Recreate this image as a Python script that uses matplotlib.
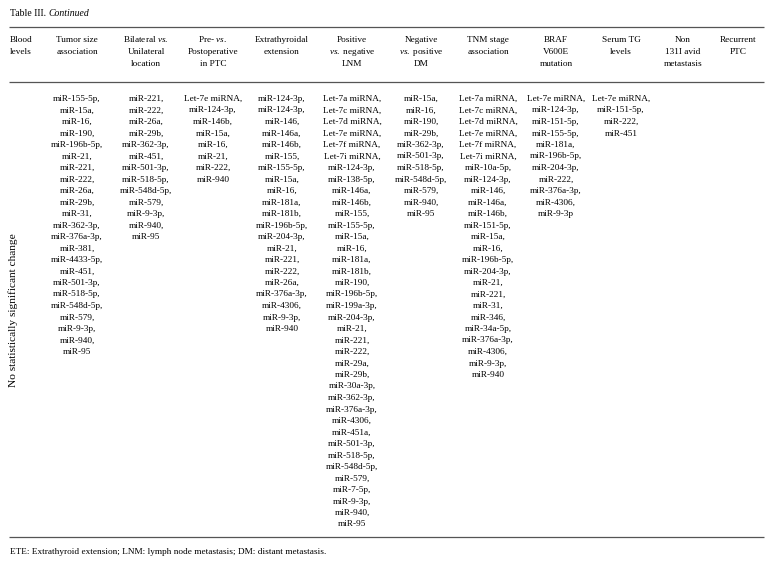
import matplotlib
matplotlib.use("Agg")
import matplotlib.pyplot as plt

plt.rcParams['font.family'] = ['Liberation Serif', 'DejaVu Serif']
plt.rcParams['mathtext.fontset'] = 'custom'
plt.rcParams['mathtext.rm'] = 'Liberation Serif'
plt.rcParams['mathtext.it'] = 'Liberation Serif:italic'

# column headers (each entry = lines of the header cell)
headers = [
    ["Tumor size", "association"],
    [r"Bilateral $\mathit{vs.}$", "Unilateral", "location"],
    [r"Pre- $\mathit{vs.}$", "Postoperative", "in PTC"],
    ["Extrathyroidal", "extension"],
    ["Positive", r"$\mathit{vs.}$ negative", "LNM"],
    ["Negative", r"$\mathit{vs.}$ positive", "DM"],
    ["TNM stage", "association"],
    ["BRAF", "V600E", "mutation"],
    ["Serum TG", "levels"],
    ["Non", "131I avid", "metastasis"],
    ["Recurrent", "PTC"],
]
row_label = "No statistically significant change"

# cell contents
tumor_size = ["miR-155-5p", "miR-15a", "miR-16", "miR-190", "miR-196b-5p", "miR-21",
              "miR-221", "miR-222", "miR-26a", "miR-29b", "miR-31", "miR-362-3p",
              "miR-376a-3p", "miR-381", "miR-4433-5p", "miR-451", "miR-501-3p",
              "miR-518-5p", "miR-548d-5p", "miR-579", "miR-9-3p", "miR-940", "miR-95"]
bilateral = ["miR-221", "miR-222", "miR-26a", "miR-29b", "miR-362-3p", "miR-451",
             "miR-501-3p", "miR-518-5p", "miR-548d-5p", "miR-579", "miR-9-3p",
             "miR-940", "miR-95"]
pre_post = ["Let-7e miRNA", "miR-124-3p", "miR-146b", "miR-15a", "miR-16", "miR-21",
            "miR-222", "miR-940"]
extrathyroidal = ["miR-124-3p", "miR-124-3p", "miR-146", "miR-146a", "miR-146b",
                  "miR-155", "miR-155-5p", "miR-15a", "miR-16", "miR-181a", "miR-181b",
                  "miR-196b-5p", "miR-204-3p", "miR-21", "miR-221", "miR-222",
                  "miR-26a", "miR-376a-3p", "miR-4306", "miR-9-3p", "miR-940"]
lnm = ["Let-7a miRNA", "Let-7c miRNA", "Let-7d miRNA", "Let-7e miRNA", "Let-7f miRNA",
       "Let-7i miRNA", "miR-124-3p", "miR-138-5p", "miR-146a", "miR-146b", "miR-155",
       "miR-155-5p", "miR-15a", "miR-16", "miR-181a", "miR-181b", "miR-190",
       "miR-196b-5p", "miR-199a-3p", "miR-204-3p", "miR-21", "miR-221", "miR-222",
       "miR-29a", "miR-29b", "miR-30a-3p", "miR-362-3p", "miR-376a-3p", "miR-4306",
       "miR-451a", "miR-501-3p", "miR-518-5p", "miR-548d-5p", "miR-579", "miR-7-5p",
       "miR-9-3p", "miR-940", "miR-95"]
dm = ["miR-15a", "miR-16", "miR-190", "miR-29b", "miR-362-3p", "miR-501-3p",
      "miR-518-5p", "miR-548d-5p", "miR-579", "miR-940", "miR-95"]
tnm = ["Let-7a miRNA", "Let-7c miRNA", "Let-7d miRNA", "Let-7e miRNA", "Let-7f miRNA",
       "Let-7i miRNA", "miR-10a-5p", "miR-124-3p", "miR-146", "miR-146a", "miR-146b",
       "miR-151-5p", "miR-15a", "miR-16", "miR-196b-5p", "miR-204-3p", "miR-21",
       "miR-221", "miR-31", "miR-346", "miR-34a-5p", "miR-376a-3p", "miR-4306",
       "miR-9-3p", "miR-940"]
braf = ["Let-7e miRNA", "miR-124-3p", "miR-151-5p", "miR-155-5p", "miR-181a",
        "miR-196b-5p", "miR-204-3p", "miR-222", "miR-376a-3p", "miR-4306", "miR-9-3p"]
serum_tg = ["Let-7e miRNA", "miR-151-5p", "miR-222", "miR-451"]
non_avid = []
recurrent = []
columns = [tumor_size, bilateral, pre_post, extrathyroidal, lnm, dm, tnm, braf,
           serum_tg, non_avid, recurrent]

# layout in pixel coordinates (y = baseline)
col_x = [77, 146, 213, 282, 352, 421, 488, 556, 621, 683, 738]
fs = 6.7
line_h = 11.5

fig = plt.figure(figsize=(7.74, 5.62), dpi=100)
ax = fig.add_axes([0, 0, 1, 1])
ax.set_xlim(0, 774)
ax.set_ylim(562, 0)
ax.axis('off')

# title: roman part + italic part placed after it
t1 = ax.text(10, 16, "Table III. ", fontsize=7.0, va='baseline', ha='left')
renderer = fig.canvas.get_renderer()
bb = t1.get_window_extent(renderer=renderer)
ax.text(10 + bb.width, 16, "Continued", fontsize=7.0, style='italic',
        va='baseline', ha='left')

for y in [27, 82, 537]:
    ax.plot([9, 764], [y, y], color='#555555', lw=0.9, solid_capstyle='butt')

# header
ax.text(10, 42, "Blood", fontsize=fs, va='baseline', ha='left')
ax.text(10, 54, "levels", fontsize=fs, va='baseline', ha='left')
for x, lines in zip(col_x, headers):
    for i, s in enumerate(lines):
        ax.text(x, 42 + i * 12, s, fontsize=fs, va='baseline', ha='center')

# body
ax.text(13, 310, row_label, fontsize=8.2, rotation=90, va='center', ha='center')
for x, items in zip(col_x, columns):
    for i, s in enumerate(items):
        label = s + ("," if i < len(items) - 1 else "")
        ax.text(x, 101 + i * line_h, label, fontsize=fs, va='baseline', ha='center')

ax.text(10, 554, "ETE: Extrathyroid extension; LNM: lymph node metastasis; DM: distant metastasis.",
        fontsize=fs, va='baseline', ha='left')

fig.savefig("out.png", dpi=100)
